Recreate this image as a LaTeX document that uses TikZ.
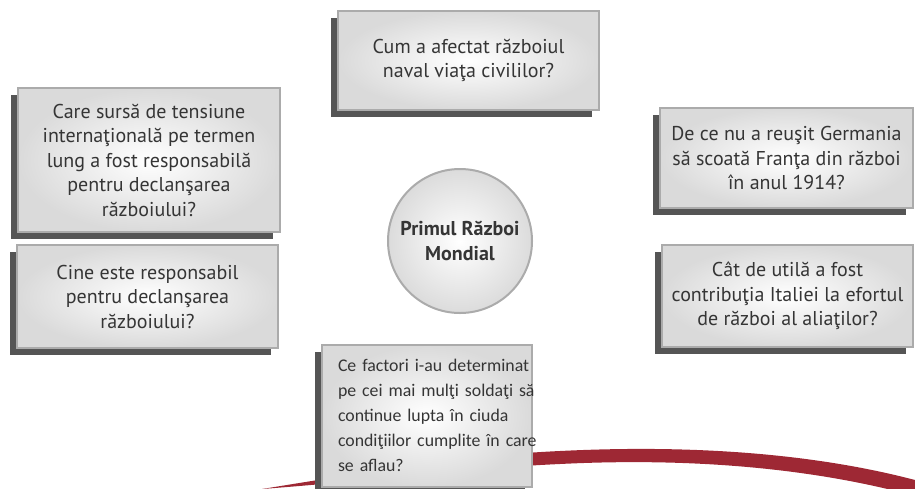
\documentclass[tikz,border=0pt]{standalone}
\usepackage{fontspec}
\setmainfont{PT Sans}
\newfontfamily\bottomfont{Carlito}
\usepackage{tikz}
\usetikzlibrary{shadows}

\definecolor{boxedge}{HTML}{ABABAB}
\definecolor{boxshade}{HTML}{DADADA}
\definecolor{shadowgray}{HTML}{555555}
\definecolor{arcred}{HTML}{9E2834}
\definecolor{textgray}{HTML}{353535}

\begin{document}
\begin{tikzpicture}[x=0.5pt, y=-0.5pt,
  qbox/.style={draw=boxedge, line width=1pt, inner color=white, outer color=boxshade,
    general shadow={fill=shadowgray, shadow xshift=-3.5pt, shadow yshift=-3.5pt},
    align=center, text=textgray, font=\fontsize{10}{12.25}\selectfont, inner sep=2pt},
  hub/.style={circle, draw=boxedge, line width=1pt, inner color=white, outer color=black!14,
    minimum size=72pt, align=center, text=textgray,
    font=\fontsize{10}{12.5}\selectfont\bfseries}]

% Page size of the picture
\useasboundingbox (0,0) rectangle (915,488);

% Red swoosh at the bottom
\fill[arcred] (262,489) .. controls (380,470) and (470,455) .. (560,451)
  .. controls (700,444) and (820,455) .. (915,480) -- (915,496)
  .. controls (820,470) and (700,457) .. (560,464)
  .. controls (470,468) and (380,480) .. (262,489) -- cycle;

% The centre
\node[hub] (war) at (460,241) {Primul Război\\Mondial};

% Question boxes
\node[qbox, minimum width=130.5pt, minimum height=49.5pt] (naval) at (468.5,60.5)
  {Cum a afectat războiul\\naval viaţa civililor?};
\node[qbox, minimum width=131pt, minimum height=72pt] (tension) at (149,160)
  {Care sursă de tensiune\\internaţională pe termen\\lung a fost responsabilă\\pentru declanşarea\\războiului?};
\node[qbox, minimum width=130.5pt, minimum height=51.5pt] (blame) at (147.5,296.5)
  {Cine este responsabil\\pentru declanşarea\\războiului?};
\node[qbox, minimum width=126.5pt, minimum height=50pt] (germany) at (786.5,158)
  {De ce nu a reuşit Germania\\să scoată Franţa din război\\în anul 1914?};
\node[qbox, minimum width=125.5pt, minimum height=51pt] (italy) at (787.5,296)
  {Cât de utilă a fost\\contribuţia Italiei la efortul\\de război al aliaţilor?};
\node[qbox, align=left, text width=95pt, inner xsep=5pt, minimum height=71pt,
  font=\bottomfont\fontsize{8.9}{12.5}\selectfont] (soldiers) at (427,416)
  {\hspace*{3pt}\begin{tabular}{@{}l@{}}Ce factori i-au determinat\\pe cei mai mulţi soldaţi să\\continue lupta în ciuda\\condiţiilor cumplite în care\\se aflau?\end{tabular}};

\end{tikzpicture}
\end{document}
